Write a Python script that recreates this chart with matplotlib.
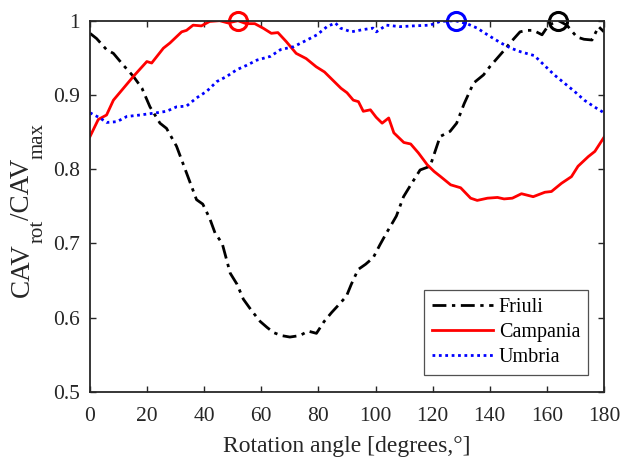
import matplotlib
matplotlib.use("Agg")
import matplotlib.pyplot as plt

plt.rcParams['font.family'] = ['Liberation Serif', 'DejaVu Serif']

# ---- data ----
friuli_x = [0, 2.3, 5.8, 8.2, 11.7, 15.2, 18.2, 21, 24.5, 26.8, 30.3, 33.8, 37.3, 39.5, 41.9,
            43.8, 46.3, 49.1, 51.5, 53.7, 56.5, 59.6, 62, 64.3, 67, 70, 73.5, 76.4, 79.3,
            82, 84.6, 87, 89.8, 91.5, 93.9, 96.5, 99.2, 101.5, 103.8, 105.5, 107.3, 109.8,
            112.5, 115.6, 119.1, 122.6, 126.1, 128.4, 131, 134.3, 137.8, 140, 142.5, 145,
            147.1, 150.6, 153, 155.3, 158.3, 160.6, 164.1, 167, 170.5, 173, 175.8, 178.1, 180]
friuli_y = [0.983, 0.976, 0.961, 0.956, 0.940, 0.925, 0.909, 0.884, 0.862, 0.855, 0.831, 0.795,
            0.759, 0.753, 0.734, 0.714, 0.700, 0.660, 0.645, 0.625, 0.610, 0.595, 0.587, 0.580,
            0.576, 0.574, 0.576, 0.582, 0.579, 0.595, 0.607, 0.617, 0.629, 0.645, 0.665, 0.672,
            0.681, 0.698, 0.714, 0.725, 0.737, 0.763, 0.780, 0.799, 0.804, 0.844, 0.851, 0.862,
            0.888, 0.916, 0.927, 0.938, 0.949, 0.960, 0.970, 0.985, 0.987, 0.987, 0.981, 0.994,
            1.000, 0.994, 0.978, 0.975, 0.974, 0.992, 0.985]

campania_x = [0, 2.9, 5.8, 8.2, 11.7, 15.2, 19.9, 21.6, 25.7, 28, 32.1, 33.8, 36.1, 39, 41.9,
              45.4, 48.3, 51.8, 54.7, 57.7, 60.6, 63.5, 65.8, 68.7, 72.2, 75.7, 79.2, 82.1,
              85, 87.9, 90, 92.2, 94, 95.7, 98.2, 100.2, 102.3, 104.6, 106.4, 109.9, 112.3,
              115, 118.1, 120.5, 122.8, 126.3, 129.8, 133.3, 135.6, 139.2, 142.7, 145, 147.9,
              151.1, 155.2, 159.3, 161.6, 165.1, 168.6, 170.9, 174.5, 176.8, 180]
campania_y = [0.844, 0.867, 0.873, 0.893, 0.909, 0.925, 0.945, 0.943, 0.963, 0.970, 0.985,
              0.987, 0.994, 0.993, 0.999, 1.000, 0.997, 1.000, 0.996, 0.996, 0.990, 0.983,
              0.984, 0.972, 0.956, 0.949, 0.938, 0.931, 0.920, 0.909, 0.903, 0.893, 0.891,
              0.878, 0.880, 0.870, 0.862, 0.869, 0.849, 0.836, 0.834, 0.822, 0.806, 0.797,
              0.790, 0.779, 0.775, 0.761, 0.758, 0.761, 0.762, 0.760, 0.761, 0.767, 0.763,
              0.769, 0.770, 0.781, 0.790, 0.804, 0.817, 0.824, 0.843]

umbria_x = [0, 3.5, 5.8, 9.4, 12.9, 17.5, 23.3, 26.8, 30.3, 33.8, 37.3, 40.9, 44.4, 47.9, 51.4,
            54.9, 58.5, 63.2, 66.7, 71.3, 76, 79.5, 83, 85.9, 87.7, 91.5, 95.6, 99.1, 100.3,
            103.8, 108.5, 113.2, 119.1, 122.6, 127.9, 132, 135.6, 139.2, 143.9, 147.4, 150.9,
            155.6, 159.1, 162.6, 166.1, 169.6, 173.1, 176.6, 180]
umbria_y = [0.876, 0.869, 0.863, 0.864, 0.871, 0.873, 0.876, 0.878, 0.884, 0.885, 0.896, 0.905,
            0.918, 0.925, 0.934, 0.940, 0.947, 0.952, 0.961, 0.965, 0.974, 0.981, 0.992, 0.997,
            0.990, 0.985, 0.988, 0.990, 0.985, 0.994, 0.992, 0.993, 0.994, 0.999, 1.000, 0.996,
            0.990, 0.981, 0.970, 0.963, 0.958, 0.953, 0.940, 0.927, 0.916, 0.905, 0.893, 0.884,
            0.876]

max_x = [164, 52, 128]
max_y = [1.0, 1.0, 1.0]
series_names = ['Friuli', 'Campania', 'Umbria']
colors = ['black', 'red', 'blue']
ytick_vals = [0.5, 0.6, 0.7, 0.8, 0.9, 1.0]
ytick_labels = ['0.5', '0.6', '0.7', '0.8', '0.9', '1']
xtick_vals = [0, 20, 40, 60, 80, 100, 120, 140, 160, 180]
xlabel_text = 'Rotation angle [degrees,°]'
ylabel_parts = [('CAV', False), ('rot', True), ('/CAV', False), ('max', True)]

TXT = '#262626'
W, H = 623, 461
fig = plt.figure(figsize=(W / 100, H / 100), dpi=100)
ax = fig.add_axes([90 / W, 1 - 392 / H, 514 / W, 371.3 / H])

ax.plot(friuli_x, friuli_y, color='black', lw=2.0, linestyle=(0, (5, 2, 1.2, 2)), label=series_names[0])
ax.plot(campania_x, campania_y, color='red', lw=2.0, linestyle='-', label=series_names[1])
ax.plot(umbria_x, umbria_y, color='blue', lw=2.0, linestyle=(0, (1, 1.3)), label=series_names[2])

for mx, my, c in zip(max_x, max_y, colors):
    ax.plot([mx], [my], marker='o', markersize=13, markerfacecolor='none',
            markeredgecolor=c, markeredgewidth=2.2, clip_on=False, linestyle='none')

ax.set_xlim(0, 180)
ax.set_ylim(0.5, 1.0)
ax.set_xticks(xtick_vals)
ax.set_yticks(ytick_vals)
ax.set_yticklabels(ytick_labels)
ax.tick_params(direction='in', top=True, right=True, labelsize=15.5, length=4,
               width=1.0, colors=TXT)
ax.tick_params(axis='x', pad=11)
ax.tick_params(axis='y', pad=7)
for s in ax.spines.values():
    s.set_linewidth(1.3)
    s.set_color(TXT)

ax.set_xlabel(xlabel_text, fontsize=17, color=TXT, labelpad=7)

leg = ax.legend(loc='lower right', bbox_to_anchor=(0.969, 0.0458), borderaxespad=0,
                fontsize=14.5, frameon=True, fancybox=False, edgecolor=TXT,
                handlelength=3.0, borderpad=0.4, labelspacing=0.3, handletextpad=0.3)
leg.get_frame().set_linewidth(0.9)

# ---- y label built from pieces with deep subscripts (rotated 90 deg) ----
renderer = fig.canvas.get_renderer()
main_fs, sub_fs = 19.5, 15.0
base_x = 29.0        # baseline x-position (pixels from left) of main text
sub_drop = 14.0      # subscript baseline drop in pixels
texts = []
lengths = []
for s, is_sub in ylabel_parts:
    t = fig.text(0, 0, s, fontsize=sub_fs if is_sub else main_fs, color=TXT,
                 rotation=90, rotation_mode='anchor', ha='left', va='baseline')
    texts.append((t, is_sub))
    lengths.append(t.get_window_extent(renderer).height)
total = sum(lengths)
center_y = H - 210.0
y = center_y - total / 2
for (t, is_sub), L in zip(texts, lengths):
    xpx = base_x + (sub_drop if is_sub else 0)
    t.set_position((xpx / W, y / H))
    y += L

fig.savefig('out.png', dpi=100)
